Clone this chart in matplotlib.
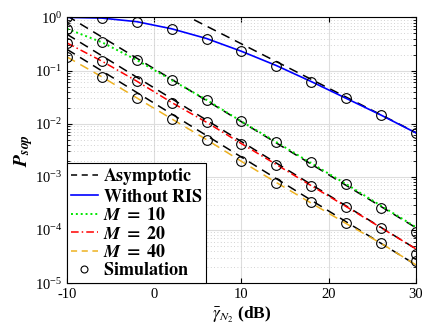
import matplotlib
matplotlib.use("Agg")
import matplotlib.pyplot as plt
from matplotlib.lines import Line2D

# SNR grid (dB)
snr = [-10, -6, -2, 2, 6, 10, 14, 18, 22, 26, 30]
snr_ends = [-10, 30]

# analytical curves
p_no_ris = [1.0, 0.97, 0.83, 0.61, 0.40, 0.23, 0.124, 0.062, 0.030, 0.0145, 0.0067]
p_m10 = [0.61, 0.34, 0.157, 0.066, 0.028, 0.011, 0.0045, 0.0018, 7.3e-4, 2.85e-4, 1.13e-4]
p_m20 = [0.33, 0.15, 0.063, 0.025, 0.0106, 0.0042, 0.0017, 6.8e-4, 2.75e-4, 1.1e-4, 4.4e-5]
p_m40 = [0.18, 0.076, 0.0305, 0.0123, 0.005, 0.00195, 7.8e-4, 3.2e-4, 1.32e-4, 5.6e-5, 2.2e-5]

# simulation points
sim_no_ris = [1.0, 0.97, 0.82, 0.61, 0.40, 0.23, 0.124, 0.062, 0.030, 0.0144, 0.0066]
sim_m10 = [0.61, 0.34, 0.157, 0.066, 0.028, 0.011, 0.0045, 0.00187, 7.4e-4, 2.6e-4, 9.1e-5]
sim_m20 = [0.33, 0.15, 0.063, 0.025, 0.0106, 0.0042, 0.0017, 6.8e-4, 2.75e-4, 1.07e-4, 3.5e-5]
sim_m40 = [0.18, 0.076, 0.0305, 0.0123, 0.005, 0.00195, 7.8e-4, 3.3e-4, 1.37e-4, 5.6e-5, 2.6e-5]

# asymptotes (end points)
asy_no_ris = [14.8, 0.0068]
asy_m10 = [1.07, 1.1e-4]
asy_m20 = [0.48, 4.4e-5]
asy_m40 = [0.25, 2.2e-5]

plt.rcParams["font.family"] = ["Liberation Serif", "DejaVu Serif"]
plt.rcParams["mathtext.fontset"] = "stix"
plt.rcParams["axes.unicode_minus"] = False

fig = plt.figure(figsize=(4.27, 3.28), dpi=100)
ax = fig.add_axes([0.157, 0.137, 0.817, 0.81])

blue = "#0000ff"
green = "#00e600"
red = "#ff0000"
orange = "#edb120"

for a in [asy_no_ris, asy_m10, asy_m20, asy_m40]:
    ax.plot(snr_ends, a, color="black", ls=(0, (6, 4)), lw=1.1)
ax.plot(snr, p_no_ris, color=blue, lw=1.2)
ax.plot(snr, p_m10, color=green, ls=(0, (1, 1.5)), lw=1.4)
ax.plot(snr, p_m20, color=red, ls=(0, (5, 2, 1, 2)), lw=1.1)
ax.plot(snr, p_m40, color=orange, ls=(0, (6, 4)), lw=1.1)
for s in [sim_no_ris, sim_m10, sim_m20, sim_m40]:
    ax.plot(snr, s, ls="none", marker="o", ms=7, mfc="none", mec="black", mew=0.8)

ax.set_yscale("log")
ax.set_xlim(-10, 30)
ax.set_ylim(1e-5, 1)
ax.set_xticks([-10, 0, 10, 20, 30])
ax.grid(True, which="major", color="#dddddd", lw=0.8)
ax.grid(True, which="minor", axis="y", color="#c4c4c4", ls=(0, (1, 3)), lw=0.6)
ax.tick_params(which="both", direction="in", top=True, right=True, labelsize=10.5)
for sp in ax.spines.values():
    sp.set_linewidth(0.8)

ax.set_xlabel(r"$\bar{\gamma}_{N_2}$ (dB)", fontsize=12.5, fontweight="bold", labelpad=3)
ax.set_ylabel(r"$\mathbfit{P}_{\mathbfit{sop}}$", fontsize=14, labelpad=0)

handles = [
    Line2D([], [], color="black", ls=(0, (4, 3)), lw=1.1),
    Line2D([], [], color=blue, lw=1.2),
    Line2D([], [], color=green, ls=(0, (1, 1.5)), lw=1.4),
    Line2D([], [], color=red, ls=(0, (5, 2, 1, 2)), lw=1.1),
    Line2D([], [], color=orange, ls=(0, (4, 3)), lw=1.1),
    Line2D([], [], ls="none", marker="o", ms=5, mfc="none", mec="black", mew=0.8),
]
labels = [
    r"$\mathbf{Asymptotic}$",
    r"$\mathbf{Without\ RIS}$",
    r"$\mathbfit{M}\ \mathbf{=\ 10}$",
    r"$\mathbfit{M}\ \mathbf{=\ 20}$",
    r"$\mathbfit{M}\ \mathbf{=\ 40}$",
    r"$\mathbf{Simulation}$",
]
leg = ax.legend(handles, labels, loc="lower left", fontsize=13, frameon=True,
                fancybox=False, edgecolor="black", framealpha=1,
                borderaxespad=0, borderpad=0.2, labelspacing=0.08,
                handlelength=1.5, handletextpad=0.3)
leg.get_frame().set_linewidth(0.8)

fig.savefig("out.png", dpi=100)
